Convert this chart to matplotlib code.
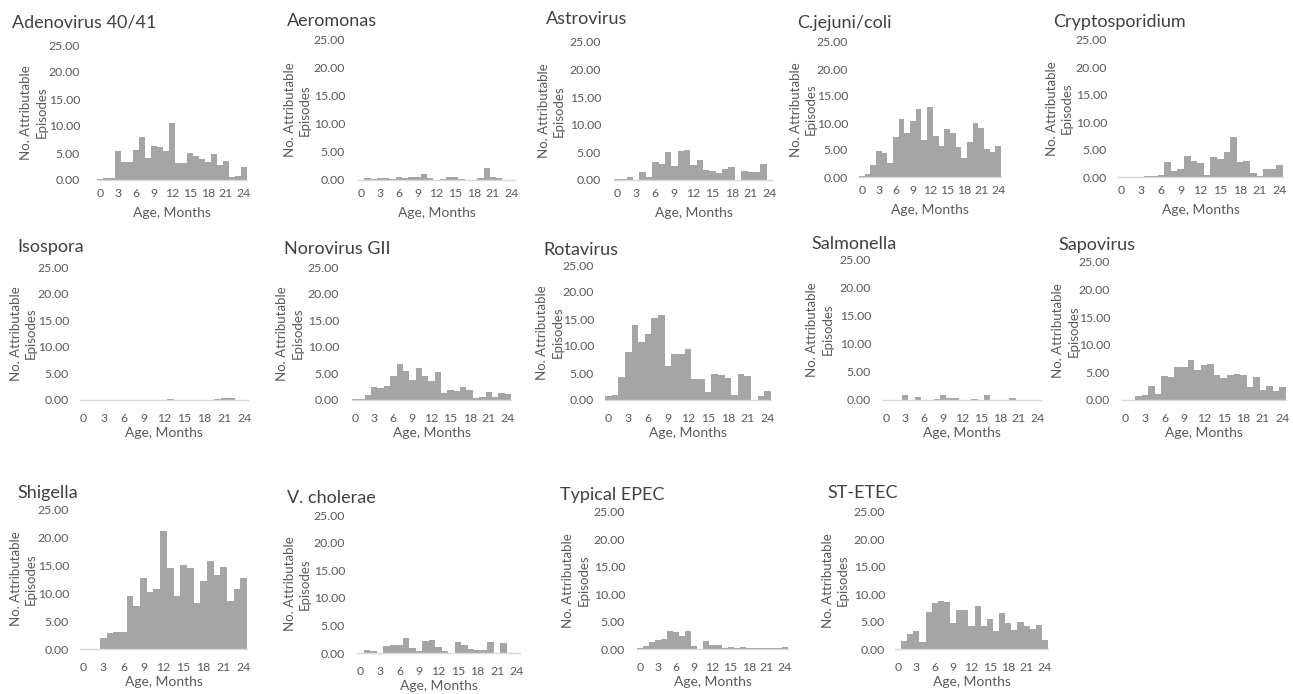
import matplotlib
matplotlib.use("Agg")
import matplotlib.pyplot as plt
import numpy as np

# Age in months (one bar per month)
ages = list(range(25))
age_ticks = list(range(0, 25, 3))
y_ticks = [0, 5, 10, 15, 20, 25]

# attributable episodes per month of age
adenovirus = [0.1, 0.3, 0.3, 5.3, 3.3, 3.4, 5.6, 7.9, 4.0, 6.3, 6.1, 5.3, 10.6,
              3.1, 3.1, 5.0, 4.5, 3.9, 3.4, 4.9, 2.8, 3.6, 0.6, 0.8, 2.5]
aeromonas = [0.0, 0.3, 0.1, 0.3, 0.3, 0.2, 0.5, 0.4, 0.6, 0.6, 1.1, 0.4, 0.0,
             0.1, 0.5, 0.5, 0.2, 0.0, 0.0, 0.4, 2.1, 0.5, 0.4, 0.0, 0.0]
astrovirus = [0.1, 0.2, 0.5, 0.0, 1.5, 0.5, 3.2, 2.9, 5.1, 2.5, 5.3, 5.4, 2.8,
              3.6, 1.9, 1.6, 1.2, 2.0, 2.3, 0.0, 1.6, 1.4, 1.4, 2.9, 0.0]
cjejuni = [0.1, 0.6, 2.3, 4.8, 4.4, 2.6, 7.4, 10.7, 8.2, 10.4, 12.6, 6.9, 12.9,
           7.6, 5.7, 8.9, 8.1, 5.5, 3.6, 6.4, 10.0, 9.0, 5.1, 4.6, 5.8]
cryptosporidium = [0.05, 0.05, 0.05, 0.05, 0.1, 0.1, 0.4, 2.8, 1.1, 1.4, 3.9, 2.9, 2.6,
                   0.3, 3.6, 3.2, 4.5, 7.3, 2.7, 3.0, 0.8, 0.1, 1.4, 1.4, 2.2]
isospora = [0.0, 0.0, 0.0, 0.0, 0.0, 0.0, 0.0, 0.0, 0.0, 0.0, 0.0, 0.0, 0.0,
            0.2, 0.0, 0.0, 0.0, 0.0, 0.0, 0.0, 0.1, 0.3, 0.3, 0.0, 0.0]
norovirus = [0.2, 0.1, 1.0, 2.4, 2.2, 2.7, 4.6, 6.8, 5.5, 3.7, 6.0, 4.6, 3.5,
             5.2, 1.3, 1.9, 1.6, 2.4, 1.8, 0.4, 0.6, 1.5, 0.6, 1.3, 1.2]
rotavirus = [0.8, 1.0, 4.3, 8.8, 13.9, 10.7, 12.3, 15.2, 15.8, 6.3, 8.6, 8.6, 9.4,
             3.9, 3.8, 1.5, 4.9, 4.7, 4.1, 0.9, 4.8, 4.4, 0.0, 0.8, 1.6]
salmonella = [0.0, 0.0, 0.0, 0.8, 0.0, 0.5, 0.0, 0.0, 0.1, 0.9, 0.4, 0.4, 0.0,
              0.0, 0.2, 0.0, 0.9, 0.0, 0.0, 0.0, 0.3, 0.0, 0.0, 0.0, 0.0]
sapovirus = [0.0, 0.0, 0.8, 0.9, 2.5, 1.1, 4.3, 4.1, 5.9, 5.9, 7.3, 5.4, 6.4,
             6.6, 4.6, 4.0, 4.6, 4.8, 4.5, 2.3, 4.2, 1.9, 2.6, 1.7, 2.3]
shigella = [0.0, 0.0, 0.0, 1.9, 2.8, 3.1, 3.1, 9.5, 7.7, 12.6, 10.2, 10.8, 21.0,
            14.4, 9.4, 15.0, 14.4, 8.2, 12.1, 15.7, 13.3, 14.6, 8.5, 10.7, 12.7]
vcholerae = [0.0, 0.5, 0.3, 0.0, 1.3, 1.4, 1.4, 2.8, 0.9, 0.4, 2.1, 2.3, 1.0,
             0.3, 0.0, 2.0, 1.4, 0.8, 0.6, 0.6, 2.0, 0.0, 1.8, 0.0, 0.0]
typical_epec = [0.1, 0.6, 1.2, 1.6, 1.8, 3.2, 3.1, 2.3, 3.2, 0.6, 0.0, 1.5, 0.7,
                0.7, 0.1, 0.4, 0.2, 0.4, 0.2, 0.2, 0.2, 0.2, 0.1, 0.1, 0.4]
st_etec = [0.0, 1.5, 2.7, 3.2, 1.2, 6.7, 8.4, 8.8, 8.5, 4.8, 7.2, 7.2, 4.2,
           7.9, 4.2, 5.4, 3.3, 6.6, 4.8, 3.4, 5.0, 4.2, 3.6, 4.4, 1.7]

W, H = 1293, 694
BAR = "#A5A5A5"
TXT = "#595959"
FONT = "Lato"

# name, values, axis x0, x1, y of 25, y of 0, title x, title y, ylabel x, tick gap (all pixels)
panels = [
    ("Adenovirus 40/41", adenovirus, 97, 247, 45, 180, 12, 22, 34, 17),
    ("Aeromonas", aeromonas, 358, 515, 40, 180, 287, 21, 297, 13),
    ("Astrovirus", astrovirus, 614, 773, 42, 180, 546, 19, 551, 13),
    ("C.jejuni/coli", cjejuni, 859, 1001, 42, 177, 797, 23, 803, 11),
    ("Cryptosporidium", cryptosporidium, 1118, 1283, 40, 177, 1053, 22, 1059, 11),
    ("Isospora", isospora, 80, 248, 267, 400, 17, 247, 23, 11),
    ("Norovirus GII", norovirus, 352, 511, 267, 400, 284, 249, 290, 13),
    ("Rotavirus", rotavirus, 605, 771, 265, 400, 543, 250, 550, 11),
    ("Salmonella", salmonella, 883, 1041, 259, 400, 811, 244, 820, 12),
    ("Sapovirus", sapovirus, 1122, 1286, 262, 400, 1058, 245, 1066, 12),
    ("Shigella", shigella, 80, 247, 509, 649, 17, 493, 23, 11),
    ("V. cholerae", vcholerae, 357, 520, 515, 653, 287, 498, 297, 12),
    ("Typical EPEC", typical_epec, 637, 788, 512, 649, 560, 495, 576, 12),
    ("ST-ETEC", st_etec, 895, 1048, 512, 649, 827, 493, 835, 10),
]

fig = plt.figure(figsize=(W / 100, H / 100), dpi=100)
fig.patch.set_facecolor("white")

for name, vals, x0, x1, ytop, ybase, tx, ty, lx, gap in panels:
    ax = fig.add_axes([x0 / W, 1 - ybase / H, (x1 - x0) / W, (ybase - ytop) / H])
    ax.bar(ages, vals, width=1.0, color=BAR, edgecolor="none")
    ax.set_xlim(-0.5, 24.5)
    ax.set_ylim(0, 25)
    ax.set_yticks(y_ticks)
    ax.set_yticklabels(["%.2f" % v for v in y_ticks], fontsize=8.8, color=TXT, family=FONT)
    ax.set_xticks(age_ticks)
    ax.set_xticklabels([str(a) for a in age_ticks], fontsize=8.8, color=TXT, family=FONT)
    ax.tick_params(axis="y", length=0, pad=gap * 0.72)
    # lower rows sit their month labels a little further down
    ax.tick_params(axis="x", length=0, pad=6 if ybase < 200 else 9.5)
    for s in ["top", "right", "left"]:
        ax.spines[s].set_visible(False)
    ax.spines["bottom"].set_color("#D9D9D9")
    ax.spines["bottom"].set_linewidth(1.0)
    ax.set_facecolor("none")

    # panel title
    fig.text(tx / W, 1 - ty / H, name, fontsize=13, color="#404040", family=FONT,
             ha="left", va="center")
    # y axis title, two lines
    fig.text(lx / W, 1 - (ytop + ybase) / 2 / H, "No. Attributable\nEpisodes",
             fontsize=9.5, color=TXT, family=FONT, rotation=90, ha="center",
             va="center", multialignment="center", linespacing=1.3)
    # x axis title
    fig.text((x0 + x1) / 2 / W, 1 - (ybase + 33) / H, "Age, Months", fontsize=10,
             color=TXT, family=FONT, ha="center", va="center")

fig.savefig("out.png", dpi=100, facecolor="white")
